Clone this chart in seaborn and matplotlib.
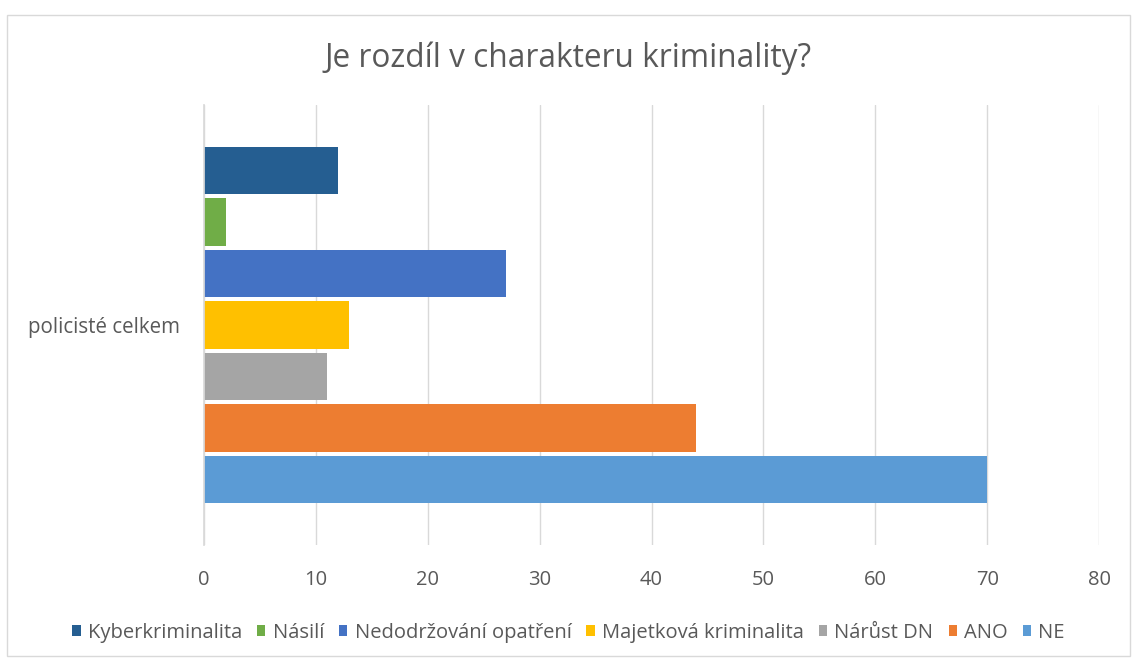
import matplotlib
matplotlib.use("Agg")
import matplotlib.pyplot as plt
from matplotlib.patches import Rectangle
import seaborn as sns
import pandas as pd

category = ["policisté celkem"]
series = ["Kyberkriminalita", "Násilí", "Nedodržování opatření",
          "Majetková kriminalita", "Nárůst DN", "ANO", "NE"]
values = [12, 2, 27, 13, 11, 44, 70]
colors = ["#255E91", "#70AD47", "#4472C4", "#FFC000", "#A5A5A5", "#ED7D31", "#5B9BD5"]
xticks = [0, 10, 20, 30, 40, 50, 60, 70, 80]
title = "Je rozdíl v charakteru kriminality?"

df = pd.DataFrame({"kategorie": category * len(series), "serie": series, "hodnota": values})

sns.set_theme(style="white")
plt.rcParams["font.family"] = ["Open Sans", "DejaVu Sans"]
txt = "#595959"

fig = plt.figure(figsize=(11.37, 6.64), dpi=100)
fig.patches.append(Rectangle((0.006, 0.012), 0.988, 0.966, transform=fig.transFigure,
                             fill=False, edgecolor="#D9D9D9", linewidth=1))
ax = fig.add_axes([0.1794, 0.1792, 0.7872, 0.6627])

sns.barplot(data=df, y="kategorie", x="hodnota", hue="serie", hue_order=series,
            palette=colors, orient="h", width=0.82, gap=0.08, ax=ax,
            edgecolor="none", linewidth=0, saturation=1, errorbar=None, legend=True)

ax.set_xlim(0, 80)
ax.set_ylim(0.5, -0.5)
ax.set_xticks(xticks)
ax.set_xticklabels([str(t) for t in xticks], fontsize=14.5, color=txt)
ax.xaxis.grid(True, color="#D9D9D9", linewidth=1)
ax.set_axisbelow(True)
ax.tick_params(axis="x", length=0, pad=18)
ax.tick_params(axis="y", which="major", length=0, pad=17, labelsize=14.8, labelcolor=txt)
ax.set_yticks([-0.5, 0.5], minor=True)
ax.tick_params(axis="y", which="minor", length=5, color="#D9D9D9", width=1)
for s in ["top", "right", "bottom"]:
    ax.spines[s].set_visible(False)
ax.spines["left"].set_color("#D9D9D9")
ax.set_xlabel("")
ax.set_ylabel("")

handles, labels = ax.get_legend_handles_labels()
ax.get_legend().remove()
fig.legend(handles, labels, loc="center", bbox_to_anchor=(0.5, 0.047), ncol=7, frameon=False,
           fontsize=14.5, handlelength=0.42, handleheight=0.42, handletextpad=0.35,
           columnspacing=0.75, labelcolor=txt)

fig.text(0.5, 0.913, title, ha="center", va="center", fontsize=22.8, color=txt)

fig.savefig("out.png", dpi=100)
